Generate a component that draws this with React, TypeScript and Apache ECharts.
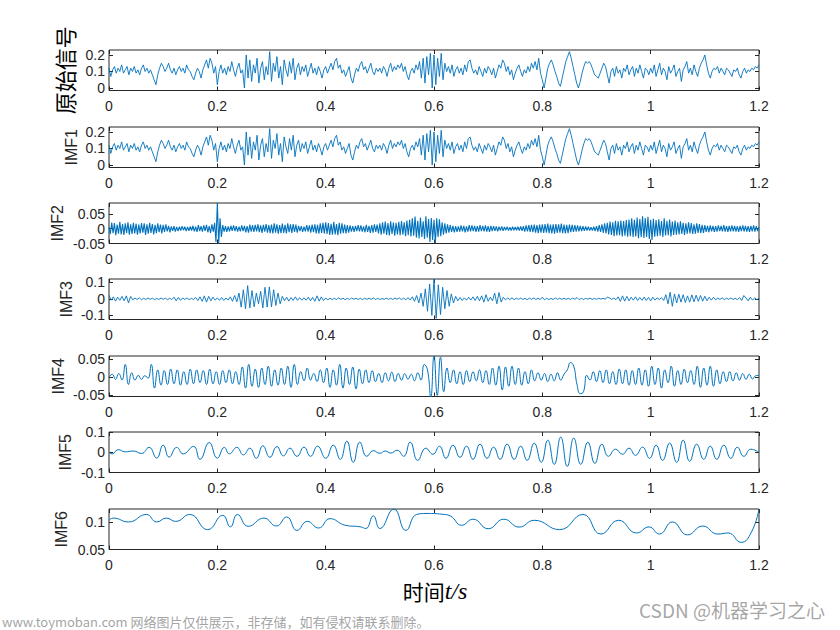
import React, { useEffect, useRef } from "react";
import * as echarts from "echarts";

const xTicks = [0, 0.2, 0.4, 0.6, 0.8, 1, 1.2];
const panelNames = ["原始信号", "IMF1", "IMF2", "IMF3", "IMF4", "IMF5", "IMF6"];

// original signal, units of 0.01, 361 samples over 0..1.2 s
const originalSignal = [
  12,7,11,13,9,12,10,14,9,11,13,8,12,10,13,9,11,8,12,14,10,12,9,11,8,5,2,8,12,15,
  13,10,12,15,11,9,12,8,11,13,10,12,9,14,11,10,7,5,9,12,10,6,11,14,17,12,18,15,9,13,
  2,10,14,9,12,8,13,10,16,11,7,12,15,9,11,0,20,6,17,4,14,9,18,3,12,16,5,13,8,22,
  4,15,10,19,6,13,2,17,11,7,16,9,18,5,12,15,8,13,10,14,7,11,15,9,12,8,13,10,6,11,
  13,9,12,15,11,16,18,12,14,9,11,7,10,13,6,3,8,12,10,14,16,11,13,9,12,15,10,8,12,10,
  12,9,13,11,7,12,15,10,13,11,14,12,15,10,13,8,5,10,12,9,14,11,16,6,18,3,19,8,21,0,
  20,2,18,7,21,5,15,10,13,9,14,7,11,13,9,12,8,14,10,16,17,12,9,11,8,13,10,7,12,9,
  13,11,8,12,6,10,14,12,17,15,10,13,8,11,5,9,12,14,10,7,11,9,13,10,15,12,16,11,18,9,
  5,0,6,12,15,17,14,10,7,3,1,6,11,16,19,22,18,13,8,3,0,4,9,13,16,15,16,14,11,8,
  7,6,9,12,15,13,8,3,10,12,7,13,9,11,6,12,10,14,8,11,13,7,12,9,14,10,6,12,11,8,
  12,9,14,7,11,15,8,12,10,5,13,9,11,14,7,10,12,4,11,13,16,9,12,8,14,10,7,12,15,17,
  20,14,9,6,10,12,11,13,9,12,10,8,12,11,9,7,11,10,12,8,6,10,12,9,11,10,12,11,13,12,
  14
];
const imf1Signal = originalSignal;

// IMF2, units of 0.001, 481 samples
const imf2Signal = [
  5,-18,21,-15,19,-22,14,-17,23,-19,16,-21,18,-14,22,-20,15,-18,20,-16,
  17,-20,14,-16,19,-13,18,-21,15,-17,20,-14,16,-19,13,-15,18,-12,14,-16,
  13,-11,15,-9,10,-12,8,-7,9,-10,6,-8,7,-6,9,-5,7,-8,6,-7,
  8,-6,10,-9,7,-11,12,-8,9,-10,11,-7,13,-12,9,-14,15,-10,20,-45,
  87,-50,35,-28,12,-10,9,-11,8,-9,10,-7,11,-8,9,-10,7,-9,11,-8,
  10,-12,9,-13,14,-10,12,-11,13,-9,15,-12,11,-14,13,-10,16,-13,12,-15,
  14,-16,18,-13,15,-17,12,-15,17,-14,13,-16,18,-12,15,-14,16,-11,14,-13,
  10,-8,9,-11,7,-9,12,-10,11,-13,14,-12,15,-16,13,-17,18,-14,20,-16,
  22,-18,19,-21,17,-20,23,-19,16,-22,20,-17,18,-15,14,-16,12,-13,11,-10,
  9,-11,10,-8,12,-9,11,-10,8,-12,13,-11,10,-14,12,-13,15,-11,14,-16,
  18,-20,22,-17,24,-21,19,-23,25,-18,21,-24,20,-19,23,-22,26,-20,22,-25,
  28,-22,30,-26,35,-24,41,-30,27,-33,38,-28,25,-35,42,-30,33,-45,36,-38,
  30,-48,35,-28,32,-25,22,-20,18,-16,15,-13,12,-11,10,-12,9,-11,8,-10,
  11,-9,10,-12,8,-10,12,-9,11,-8,10,-11,9,-10,12,-8,10,-9,11,-10,
  9,-11,10,-8,9,-7,8,-9,7,-6,8,-7,6,-5,7,-6,5,-6,7,-5,
  6,-5,7,-6,8,-7,9,-10,11,-9,12,-11,13,-12,14,-13,12,-15,14,-13,
  15,-14,16,-13,17,-15,14,-16,15,-17,16,-14,15,-13,17,-15,14,-16,13,-15,
  14,-12,13,-11,12,-10,11,-9,10,-8,9,-7,8,-6,7,-6,5,-6,7,-8,
  9,-10,12,-11,15,-14,18,-16,20,-19,24,-21,22,-25,27,-23,25,-22,28,-26,
  26,-24,29,-27,31,-25,35,-28,30,-26,38,-32,33,-29,42,-31,36,-28,40,-35,
  30,-38,34,-27,29,-25,32,-24,26,-28,35,-23,27,-22,31,-26,24,-21,28,-20,
  22,-19,25,-18,20,-21,18,-17,22,-16,19,-18,15,-17,18,-14,16,-15,13,-14,
  12,-11,10,-12,11,-9,10,-11,9,-10,11,-8,10,-9,12,-10,9,-11,10,-9,
  11,-9,10,-10,9,-11,10,-8,11,-9,10,-10,9,-11,10,-9,11,-10,9,-8,
  5
];

// IMF3, units of 0.001, 301 samples
const imf3Signal = [
  20,-8,12,-14,10,-9,15,-12,18,-25,
  14,-6,5,-4,6,-5,3,-4,5,-3,
  4,-5,3,-4,5,-3,4,-5,3,-4,
  10,-12,8,-9,5,-4,6,-5,3,-4,
  8,-10,12,-15,18,-20,15,-12,10,-8,
  6,-9,8,-10,5,-7,12,-15,20,-18,
  35,-50,55,-60,80,-55,50,-48,35,-30,
  45,-55,70,-50,72,-48,55,-40,35,-30,
  15,-12,10,-14,8,-10,12,-9,7,-8,
  6,-8,10,-12,9,-15,18,-14,12,-10,
  5,-6,4,-5,3,-4,5,-3,4,-5,
  3,-4,5,-3,4,-4,3,-5,4,-3,
  4,-3,5,-4,3,-4,2,-3,4,-3,
  3,-4,5,-3,6,-5,4,-6,8,-7,
  12,-15,20,-25,35,-45,60,-75,90,-100,
  120,-118,85,-95,70,-60,50,-45,30,-25,
  15,-12,8,-10,6,-8,10,-7,12,-10,
  15,-12,18,-20,25,-15,10,-12,35,-30,
  38,-20,10,-6,5,-4,6,-5,4,-3,
  5,-4,3,-5,4,-3,5,-4,3,-4,
  10,-6,4,-5,3,-4,5,-3,4,-3,
  4,-3,3,-4,5,-3,8,-5,3,-4,
  3,-2,4,-3,2,-3,4,-2,3,-2,
  10,5,-3,4,-5,12,-15,18,-14,15,
  -12,10,-8,12,-10,8,-9,11,-10,9,
  -12,10,-8,6,-5,8,-10,25,-30,40,
  -45,30,-25,28,-20,25,-22,18,-20,24,
  -18,22,-15,20,-14,16,-12,10,-8,9,
  -6,5,-4,6,-5,4,-3,5,-4,3,
  -5,8,-10,20,5,-12,10,-8,6,-5,
  4
];

// IMF4 turning points, units of 0.001, 201 samples
const imf4Signal = [
  0,8,-6,10,-8,35,-20,12,-8,5,
  -6,4,-3,35,-30,20,-22,18,-20,22,
  -18,20,-22,15,-20,22,-18,20,-15,18,
  -20,22,-18,15,-20,18,-15,20,-18,15,
  -20,28,-30,35,-25,22,-28,25,-20,30,
  -25,20,-22,25,-20,30,-28,35,-20,15,
  -10,25,-8,10,-12,20,-15,25,-28,20,
  -22,35,-30,25,-20,28,-32,22,-18,20,
  -15,18,-12,10,-15,12,-10,14,-12,10,
  -8,10,-6,8,-10,12,-8,35,20,-55,
  58,-50,55,-40,25,-15,20,-18,15,-20,
  18,-12,15,-10,20,-15,18,-20,25,-22,
  30,-35,28,-25,30,-20,25,-22,15,-18,
  20,-10,12,-8,10,-12,8,-10,12,-8,
  8,20,40,30,-20,-45,-40,5,-8,15,
  -12,18,-15,20,-18,15,-20,22,-18,20,
  -22,18,-20,25,-22,20,-25,30,-20,25,
  -30,20,-15,30,-25,18,-20,22,-15,18,
  -20,30,-28,25,-22,30,-25,20,-18,15,
  -12,15,-10,12,-8,10,-6,8,-5,4,
  5
];

// IMF5 turning points [t, value]
const imf5Points = [
  [0,0],[0.006,-0.008],[0.017,0.013],[0.03,0.002],[0.045,0.006],[0.06,-0.006],[0.074,0.024],[0.088,-0.029],
  [0.1,0.035],[0.111,-0.024],[0.125,0.024],[0.137,-0.008],[0.156,0.029],[0.168,-0.035],[0.185,0.048],[0.2,-0.029],
  [0.213,0.024],[0.222,-0.008],[0.236,0.024],[0.248,-0.013],[0.26,0.02],[0.272,-0.03],[0.284,0.032],[0.297,-0.025],
  [0.31,0.028],[0.322,-0.018],[0.334,0.02],[0.347,-0.02],[0.36,0.025],[0.372,-0.02],[0.385,0.03],[0.4,-0.03],
  [0.414,0.035],[0.427,-0.035],[0.439,0.055],[0.451,-0.05],[0.463,0.05],[0.476,-0.02],[0.488,0.008],[0.5,-0.005],
  [0.51,0.006],[0.52,-0.004],[0.532,0.01],[0.544,-0.02],[0.556,0.05],[0.57,-0.04],[0.585,0.02],[0.598,-0.01],
  [0.61,0.03],[0.622,-0.03],[0.635,0.035],[0.648,-0.025],[0.66,0.03],[0.672,-0.035],[0.685,0.04],[0.698,-0.03],
  [0.71,0.025],[0.722,-0.035],[0.735,0.04],[0.748,-0.035],[0.76,0.03],[0.772,-0.04],[0.785,0.045],[0.798,-0.05],
  [0.81,0.06],[0.822,-0.06],[0.834,0.075],[0.846,-0.07],[0.858,0.07],[0.871,-0.06],[0.884,0.05],[0.897,-0.055],
  [0.91,0.04],[0.922,-0.02],[0.935,0.015],[0.948,-0.01],[0.96,0.02],[0.972,-0.015],[0.985,0.025],[0.998,-0.03],
  [1.01,0.035],[1.022,-0.04],[1.035,0.045],[1.048,-0.05],[1.06,0.06],[1.072,-0.045],[1.085,0.04],[1.098,-0.035],
  [1.11,0.03],[1.122,-0.035],[1.135,0.035],[1.148,-0.03],[1.16,0.025],[1.172,-0.02],[1.185,0.015],[1.2,0.0]
];

// IMF6 turning points [t, value]
const imf6Points = [
  [0,0.103],[0.008,0.107],[0.036,0.1],[0.069,0.1136],[0.088,0.1],[0.106,0.107],[0.123,0.101],[0.149,0.1136],
  [0.182,0.086],[0.21,0.112],[0.224,0.091],[0.237,0.1136],[0.257,0.092],[0.286,0.107],[0.309,0.0926],[0.328,0.109],
  [0.347,0.0846],[0.366,0.101],[0.387,0.089],[0.408,0.106],[0.436,0.094],[0.465,0.091],[0.474,0.088],[0.488,0.111],
  [0.5,0.088],[0.526,0.1235],[0.548,0.0846],[0.568,0.1136],[0.587,0.1154],[0.615,0.114],[0.63,0.111],[0.651,0.094],
  [0.672,0.105],[0.7,0.0877],[0.729,0.105],[0.757,0.0907],[0.785,0.103],[0.832,0.086],[0.875,0.1136],[0.908,0.078],
  [0.941,0.103],[0.974,0.08],[0.997,0.091],[1.016,0.078],[1.04,0.1],[1.068,0.0765],[1.096,0.0926],[1.124,0.078],
  [1.143,0.08],[1.167,0.063],[1.186,0.0815],[1.2,0.1235]
];

function sampled(values: number[], unit: number) {
  const dt = 1.2 / (values.length - 1);
  return values.map((v, i) => [i * dt, v * unit]);
}

const panelData = [
  sampled(originalSignal, 0.01),
  sampled(imf1Signal, 0.01),
  sampled(imf2Signal, 0.001),
  sampled(imf3Signal, 0.001),
  sampled(imf4Signal, 0.001),
  imf5Points,
  imf6Points,
];
const yMins = [-0.015, -0.015, -0.05, -0.125, -0.053, -0.1, 0.05];
const yMaxs = [0.23, 0.23, 0.087, 0.12, 0.058, 0.1, 0.1235];
const yTickValues = [
  [0, 0.1, 0.2],
  [0, 0.1, 0.2],
  [-0.05, 0, 0.05],
  [-0.1, 0, 0.1],
  [-0.05, 0, 0.05],
  [-0.1, 0, 0.1],
  [0.05, 0.1],
];
const smoothFlags = [false, false, false, false, 0.5, 0.5, 0.5];
const lineWidths = [0.9, 0.9, 1.1, 0.9, 1, 1, 1];

const gridTops = [50, 127, 203, 279, 356, 432, 509];
const gridHeight = 40.5;
const labelX = [64, 71.5, 57, 66.5, 58, 65, 61];

const AXIS_COLOR = "#262626";
const LINE_COLOR = "#0072BD";
const fmt = (v: number) => String(+(+v).toFixed(3));

export default function App() {
  const ref = useRef<HTMLDivElement>(null);
  useEffect(() => {
    if (!ref.current) return;
    const chart = echarts.init(ref.current, null, { renderer: "svg" });
    const grid: any[] = [];
    const xAxis: any[] = [];
    const yAxis: any[] = [];
    const series: any[] = [];
    const graphic: any[] = [];
    panelData.forEach((data, i) => {
      grid.push({
        left: 109, width: 650, top: gridTops[i], height: gridHeight,
        show: true, borderColor: AXIS_COLOR, borderWidth: 1, backgroundColor: "#fff",
      });
      const tickStyle = { inside: true, length: 4, lineStyle: { color: AXIS_COLOR, width: 1 } };
      xAxis.push({
        gridIndex: i, type: "value", min: 0, max: 1.2, interval: 0.2, position: "bottom",
        axisLine: { show: false, onZero: false }, axisTick: tickStyle, splitLine: { show: false },
        axisLabel: { color: AXIS_COLOR, fontSize: 14, fontFamily: "Liberation Sans, Arial", margin: 8, formatter: fmt },
      });
      xAxis.push({
        gridIndex: i, type: "value", min: 0, max: 1.2, interval: 0.2, position: "top",
        axisLine: { show: false, onZero: false }, axisTick: tickStyle, splitLine: { show: false }, axisLabel: { show: false },
      });
      const ticks = yTickValues[i];
      yAxis.push({
        gridIndex: i, type: "value", min: yMins[i], max: yMaxs[i], position: "left",
        axisLine: { show: false, onZero: false }, splitLine: { show: false },
        axisTick: { ...tickStyle, customValues: ticks },
        axisLabel: { customValues: ticks, color: AXIS_COLOR, fontSize: 14, fontFamily: "Liberation Sans, Arial", margin: 4, formatter: fmt },
      });
      yAxis.push({
        gridIndex: i, type: "value", min: yMins[i], max: yMaxs[i], position: "right",
        axisLine: { show: false, onZero: false }, splitLine: { show: false },
        axisTick: { ...tickStyle, customValues: ticks },
        axisLabel: { show: false },
      });
      series.push({
        type: "line", xAxisIndex: 2 * i, yAxisIndex: 2 * i, data,
        showSymbol: false, symbol: "none", smooth: smoothFlags[i], clip: true,
        lineStyle: { color: LINE_COLOR, width: lineWidths[i] },
      });
      const isCn = i === 0;
      graphic.push({
        type: "text", x: labelX[i], y: gridTops[i] + gridHeight / 2 + (isCn ? 0 : 0), rotation: Math.PI / 2,
        style: {
          text: panelNames[i], textAlign: "center", textVerticalAlign: "middle",
          fontSize: isCn ? 22 : 16,
          fontFamily: isCn ? "Noto Sans CJK SC" : "Liberation Sans, Arial",
          fill: isCn ? "#000" : AXIS_COLOR,
        },
      });
    });
    graphic.push({
      type: "text", x: 435, y: 591,
      style: {
        text: "{cn|时间}{it|t/s}", textAlign: "center", textVerticalAlign: "middle",
        rich: {
          cn: { fontFamily: "Noto Sans CJK SC", fontSize: 21, fill: "#000" },
          it: { fontFamily: "Liberation Serif", fontStyle: "italic", fontSize: 24, fill: "#000" },
        },
      },
    });
    graphic.push({
      type: "text", x: 2, y: 621,
      style: {
        text: "www.toymoban.com 网络图片仅供展示，非存储，如有侵权请联系删除。",
        textAlign: "left", textVerticalAlign: "middle", fontSize: 13,
        fontFamily: "Noto Sans CJK SC", fill: "rgba(140,140,140,0.8)",
      },
    });
    graphic.push({
      type: "text", x: 825, y: 609,
      style: {
        text: "CSDN @机器学习之心", textAlign: "right", textVerticalAlign: "middle", fontSize: 19,
        fontFamily: "Noto Sans CJK SC", fill: "rgba(150,150,150,0.85)",
      },
    });
    chart.setOption({
      animation: false, backgroundColor: "#fff",
      grid, xAxis, yAxis, series, graphic,
    });
    return () => chart.dispose();
  }, []);
  return (
    <div
      ref={ref}
      style={{ position: "absolute", left: 0, top: 0, width: 840, height: 630, background: "#fff" }}
    />
  );
}
